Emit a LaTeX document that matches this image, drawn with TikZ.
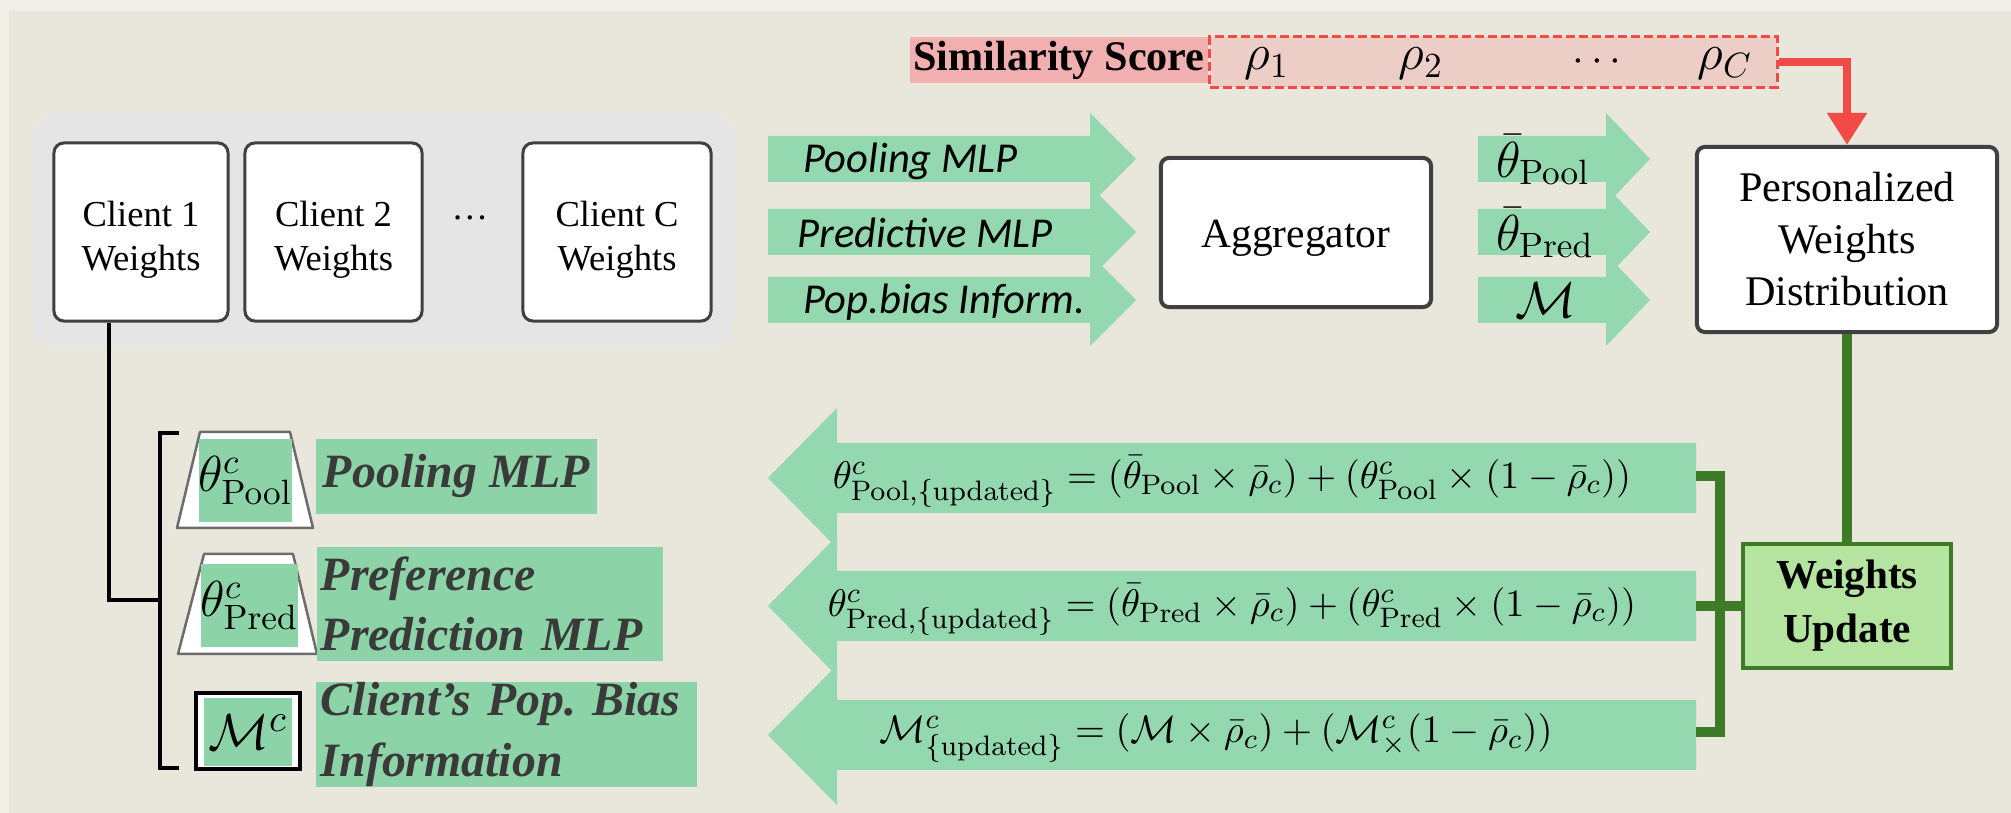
\documentclass[tikz,border=0pt]{standalone}
\usepackage[no-math]{fontspec}
\setmainfont{Liberation Serif}[BoldFont={* Bold}, ItalicFont={* Italic}, BoldItalicFont={* Bold Italic}]
\newfontfamily\armfont{Carlito}
\usetikzlibrary{arrows.meta}
\definecolor{outerc}{HTML}{F1EEE8}
\definecolor{panelc}{HTML}{E9E6DC}
\definecolor{grayboxc}{HTML}{E5E5E5}
\definecolor{mint}{HTML}{93D8AF}
\definecolor{lblgreen}{HTML}{8DD3A8}
\definecolor{pinkc}{HTML}{F2AFAF}
\definecolor{pinklight}{HTML}{ECCEC6}
\definecolor{redc}{HTML}{F24A47}
\definecolor{dkgreen}{HTML}{3E7B27}
\definecolor{wugreen}{HTML}{B4E4A0}
\definecolor{boxborder}{HTML}{404040}
\definecolor{lbltext}{HTML}{3A3A3A}
\newcommand\rblock[4]{\fill[mint] (#1,#4-23) -- (#2,#4-23) -- (#2,#4-46) -- (#3,#4) -- (#2,#4+46) -- (#2,#4+23) -- (#1,#4+23) -- cycle;}
\newcommand\lblock[4]{\fill[mint] (#1,#4) -- (#2,#4-70) -- (#2,#4-35) -- (#3,#4-35) -- (#3,#4+35) -- (#2,#4+35) -- (#2,#4+70) -- cycle;}
\begin{document}
\begin{tikzpicture}[x=0.01cm,y=-0.01cm,
  clientbox/.style={draw=boxborder, line width=0.03cm, fill=white, rounded corners=0.1cm, align=center, inner sep=0pt, font=\fontsize{10.4}{12.6}\selectfont},
  bigbox/.style={draw=boxborder, line width=0.04cm, fill=white, rounded corners=0.08cm, align=center, inner sep=0pt},
  armlabel/.style={anchor=west, inner sep=0pt, font=\armfont\itshape\fontsize{12.1}{14}\selectfont},
  arrmath/.style={inner sep=0pt, font=\fontsize{14}{16}\selectfont},
  formula/.style={inner sep=0pt, font=\fontsize{11}{13}\selectfont},
  greenrect/.style={fill=lblgreen, inner sep=0pt},
  lbl/.style={fill=lblgreen, inner sep=0pt, text=lbltext, align=left, font=\bfseries\itshape\fontsize{13.6}{17.2}\selectfont},
  trap/.style={fill=white, draw=gray!85!black, line width=0.025cm, line join=round},
  blk/.style={draw=black, line width=0.04cm},
  dkg/.style={draw=dkgreen, line width=0.1cm},
  redarrow/.style={draw=redc, line width=0.085cm, -{Triangle[length=0.32cm, width=0.38cm]}}
]
\useasboundingbox (0,0) rectangle (2011,813);
\fill[outerc] (0,0) rectangle (2011,813);
\fill[panelc] (9,11) rectangle (2011,813);

% client group
\fill[grayboxc, rounded corners=0.25cm] (33,113) rectangle (734,347);
\node[clientbox, minimum width=1.74cm, minimum height=1.78cm] (c1) at (141,232) {\rule{0pt}{11.8pt}Client 1\\Weights};
\node[clientbox, minimum width=1.77cm, minimum height=1.78cm] (c2) at (333.5,232) {\rule{0pt}{11.8pt}Client 2\\Weights};
\node[font=\fontsize{10.4}{12.6}\selectfont, inner sep=0pt] (cdots) at (470,218) {\dots};
\node[clientbox, minimum width=1.88cm, minimum height=1.78cm] (cC) at (617,232) {\rule{0pt}{11.8pt}Client C\\Weights};

% similarity score
\node[fill=pinkc, minimum width=2.98cm, minimum height=0.46cm, inner sep=0pt, font=\bfseries\fontsize{12}{14}\selectfont] (sim) at (1059,60) {Similarity Score};
\node[fill=pinklight, draw=redc, line width=0.03cm, dash pattern=on 0.09cm off 0.04cm, minimum width=5.67cm, minimum height=0.5cm, inner sep=0pt] (rho) at (1493.5,62) {};
\node[arrmath] (r1) at (1267,64) {$\rho_1$};
\node[arrmath] (r2) at (1421,64) {$\rho_2$};
\node[arrmath, font=\fontsize{11.5}{13}\selectfont] (rd) at (1597,62) {$\cdots$};
\node[arrmath] (rC) at (1725,64) {$\rho_C$};

% top arrows
\rblock{768}{1090}{1136}{159}
\rblock{768}{1090}{1136}{232}
\rblock{768}{1090}{1136}{300}
\node[armlabel] (p1) at (803,161) {Pooling MLP};
\node[armlabel] (p2) at (797,233) {Predictive MLP};
\node[armlabel] (p3) at (803,302) {Pop.bias Inform.};

\node[bigbox, minimum width=2.7cm, minimum height=1.49cm, font=\fontsize{11.8}{14}\selectfont] (agg) at (1296,232.5) {\rule{0pt}{11pt}Aggregator};

\rblock{1478}{1606}{1650}{159}
\rblock{1478}{1606}{1650}{232}
\rblock{1478}{1606}{1650}{300}
\node[arrmath] (tb1) at (1543,160) {$\bar{\theta}_{\mathrm{Pool}}$};
\node[arrmath] (tb2) at (1545,233) {$\bar{\theta}_{\mathrm{Pred}}$};
\node[arrmath, font=\fontsize{15}{17}\selectfont] (mb) at (1546,300) {$\mathcal{M}$};

\node[bigbox, minimum width=3.0cm, minimum height=1.85cm, font=\fontsize{12}{14.8}\selectfont] (pers) at (1847,239.5) {Personalized\\Weights\\Distribution};

\draw[redarrow] (rho.east) -| (pers.north);

% bottom arrows
\lblock{768}{837}{1696}{478}
\lblock{768}{837}{1696}{606}
\lblock{768}{837}{1696}{735}
\node[formula] (f1) at (1232,482) {$\theta^{c}_{\mathrm{Pool},\{\mathrm{updated}\}} = (\bar{\theta}_{\mathrm{Pool}} \times \bar{\rho}_c) + (\theta^{c}_{\mathrm{Pool}} \times (1-\bar{\rho}_c))$};
\node[formula] (f2) at (1232,610) {$\theta^{c}_{\mathrm{Pred},\{\mathrm{updated}\}} = (\bar{\theta}_{\mathrm{Pred}} \times \bar{\rho}_c) + (\theta^{c}_{\mathrm{Pred}} \times (1-\bar{\rho}_c))$};
\node[formula] (f3) at (1216,738) {$\mathcal{M}^{c}_{\{\mathrm{updated}\}} = (\mathcal{M} \times \bar{\rho}_c) + (\mathcal{M}^{c}_{\times}(1-\bar{\rho}_c))$};

\node[draw=dkgreen, line width=0.04cm, fill=wugreen, minimum width=2.08cm, minimum height=1.24cm, inner sep=0pt, align=center, font=\bfseries\fontsize{11.7}{15.4}\selectfont] (wu) at (1847,606) {Weights\\Update};

\draw[dkg] (pers.south) -- (wu.north);
\coordinate (e1) at (1696,476);
\coordinate (e2) at (1696,606);
\coordinate (e3) at (1696,732);
\coordinate (g1) at (1720,476);
\coordinate (g3) at (1720,732);
\draw[dkg] (e1) -- (g1) -- (g3) -- (e3);
\draw[dkg] (e2) -- (wu.west);

% bottom left
\draw[trap] (200,432) -- (290,432) -- (313,528) -- (177,528) -- cycle;
\node[greenrect, minimum width=0.89cm, minimum height=0.83cm, font=\fontsize{14}{16}\selectfont] (th1) at (245.5,480.5) {$\theta^{c}_{\mathrm{Pool}}$};
\draw[trap] (204,554) -- (293,554) -- (317,654) -- (178,654) -- cycle;
\node[greenrect, minimum width=0.97cm, minimum height=0.83cm, font=\fontsize{14}{16}\selectfont] (th2) at (249.5,605.5) {$\theta^{c}_{\mathrm{Pred}}$};
\node[fill=white, draw=black, line width=0.035cm, minimum width=1.04cm, minimum height=0.76cm, inner sep=0pt] (mbox) at (248,731) {};
\node[greenrect, minimum width=0.88cm, minimum height=0.68cm, font=\fontsize{15}{17}\selectfont] (mc) at (248,732) {$\mathcal{M}^{c}$};

\node[lbl, minimum width=2.81cm, minimum height=0.75cm, align=center] (l1) at (456.5,476.5) {Pooling MLP};
\node[lbl, text width=3.38cm, minimum height=1.14cm, inner xsep=0.04cm] (l2) at (490,604) {Preference\\Prediction MLP};
\node[lbl, text width=3.71cm, minimum height=1.05cm, inner xsep=0.05cm] (l3) at (506.5,734.5) {Client’s Pop.\ Bias\\Information};

\coordinate (bt) at (179,433);
\coordinate (btc) at (160,433);
\coordinate (bbc) at (160,768);
\coordinate (bb) at (179,768);
\coordinate (bm) at (160,600);
\draw[blk] (bt) -- (btc) -- (bbc) -- (bb);
\draw[blk] ([xshift=-0.32cm]c1.south) |- (bm);
\end{tikzpicture}
\end{document}
